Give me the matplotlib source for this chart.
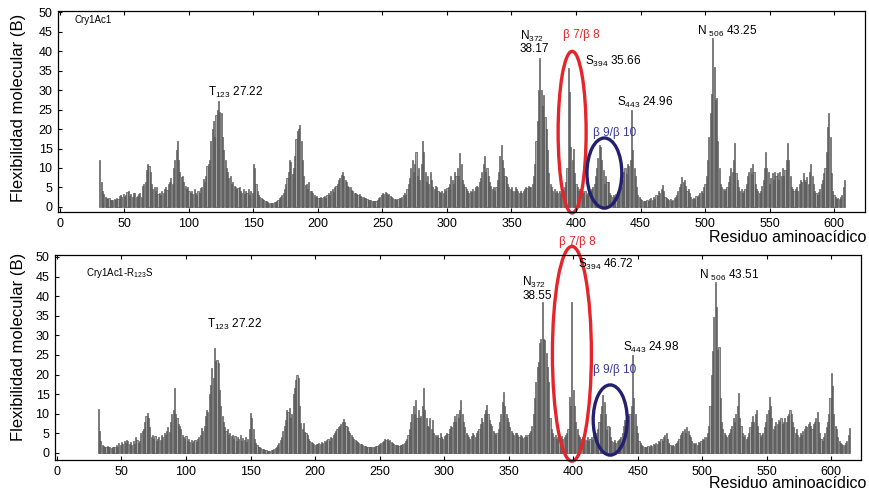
import numpy as np
import matplotlib
matplotlib.use("Agg")
import matplotlib.pyplot as plt
from matplotlib.patches import Ellipse

plt.rcParams['font.family'] = ['Liberation Sans', 'DejaVu Sans']
plt.rcParams['mathtext.fontset'] = 'custom'
plt.rcParams['mathtext.rm'] = 'Liberation Sans'

# flexibility (B) per residue
wt_start = 31
wt_vals = [
    12.0, 6.5, 4.0, 3.2, 2.5, 2.3, 2.0, 2.2, 1.8,                       # 31-39
    1.9, 1.7, 2.0, 1.8, 2.3, 2.0, 2.8, 3.0, 2.5, 3.2,                  # 40-49
    2.6, 3.0, 3.8, 4.0, 2.8, 3.2, 2.5, 3.6, 3.5, 2.6,
    2.8, 3.4, 3.5, 2.5, 5.5, 6.0, 6.5, 9.5, 11.0, 10.5,
    9.0, 6.0, 4.5, 5.0, 4.0, 5.2, 3.2, 3.5, 3.0, 4.0,
    3.6, 4.5, 5.0, 4.4, 6.0, 6.5, 7.5, 6.0, 10.0, 12.0,
    14.5, 17.0, 12.0, 9.0, 7.8, 8.0, 6.5, 5.5, 4.5, 5.0,               # 90-99
    4.0, 3.6, 4.0, 3.2, 4.5, 3.5, 3.0, 4.2, 3.5, 4.8,
    5.0, 7.3, 6.5, 8.0, 10.5, 11.0, 12.0, 17.0, 20.0, 22.0,
    18.0, 23.5, 25.0, 27.2, 24.4, 24.0, 18.0, 14.6, 12.0, 10.0,
    9.0, 7.5, 8.0, 6.0, 6.5, 5.5, 5.0, 4.5, 4.8, 5.0,
    4.0, 3.5, 4.5, 3.2, 4.2, 3.5, 4.5, 3.0, 4.0, 3.5,
    11.0, 10.0, 6.0, 4.0, 3.0, 2.5, 2.2, 2.0, 1.8, 1.5,                # 150-159
    1.4, 1.2, 1.1, 1.0, 1.0, 1.1, 1.2, 1.3, 1.5, 1.8,
    2.2, 2.5, 3.0, 3.5, 4.5, 6.0, 7.5, 9.0, 12.0, 11.5,
    8.5, 10.0, 13.0, 17.5, 19.5, 20.0, 21.0, 17.0, 12.0, 8.0,
    5.6, 6.0, 4.5, 6.5, 4.2, 4.0, 3.5, 3.0, 2.6, 2.8,
    2.4, 2.2, 2.6, 2.3, 2.5, 2.8, 2.4, 3.0, 3.5, 3.0,                  # 200-209
    4.0, 4.5, 3.8, 5.0, 5.5, 6.0, 6.8, 7.5, 8.2, 9.0,
    8.0, 7.0, 6.5, 5.5, 5.0, 5.2, 4.3, 4.0, 3.6, 3.5,
    3.2, 3.0, 3.2, 2.8, 2.6, 2.5, 2.3, 2.2, 2.0, 1.9,
    1.8, 1.7, 1.6, 1.6, 1.5, 1.6, 1.8, 2.2, 2.5, 3.0,
    3.5, 3.2, 3.8, 3.5, 3.0, 3.4, 2.8, 2.5, 2.2, 2.0,                  # 250-259
    2.0, 1.9, 2.0, 2.2, 2.2, 2.5, 3.0, 3.5, 3.0, 4.5,
    6.0, 7.5, 10.0, 12.0, 9.0, 11.0, 14.0, 8.0, 10.0, 7.0,
    11.0, 17.0, 14.0, 9.0, 6.5, 8.0, 6.0, 9.0, 7.0, 5.0,
    4.5, 5.5, 5.0, 4.0, 3.8, 3.5, 4.0, 3.6, 4.5, 4.0,
    4.8, 5.0, 6.0, 8.0, 7.0, 6.0, 9.0, 8.0, 10.0, 8.0,                 # 300-309
    13.8, 11.0, 7.0, 6.0, 5.0, 4.5, 4.0, 3.6, 4.2, 3.8,
    4.5, 4.0, 5.2, 5.5, 5.0, 6.5, 7.5, 9.0, 11.0, 13.0,
    9.0, 10.0, 8.0, 6.5, 5.5, 4.5, 5.0, 4.2, 5.0, 7.0,
    9.0, 13.0, 16.0, 12.0, 10.0, 8.0, 7.8, 6.0, 5.0, 4.5,
    5.0, 4.2, 4.0, 5.0, 4.5, 4.0, 3.5, 4.0, 3.6, 4.2,                  # 350-359
    4.5, 5.0, 4.8, 5.5, 5.0, 5.2, 6.0, 8.0, 11.0, 17.0,
    22.0, 30.0, 38.2, 30.0, 26.0, 28.7, 23.0, 20.0, 14.6, 8.6,
    6.0, 5.0, 4.0, 4.5, 3.6, 4.0, 3.5, 4.0, 3.2, 3.8,
    4.2, 5.0, 6.5, 10.0, 35.7, 29.6, 15.5, 12.0, 15.0, 8.6,
    6.0, 5.0, 4.0, 4.5, 3.8, 4.2, 3.5, 4.0, 3.0, 3.5,                  # 400-409
    4.0, 3.5, 4.5, 5.0, 6.0, 8.0, 10.0, 12.5, 16.0, 15.5,
    12.0, 9.5, 6.0, 8.0, 6.5, 6.5, 3.5, 3.0, 2.5, 3.0,
    2.5, 3.2, 2.8, 3.5, 4.0, 5.0, 7.0, 9.0, 10.0, 8.5,
    11.0, 10.5, 12.0, 25.0, 14.6, 10.0, 8.0, 5.0, 3.0, 2.5,
    2.0, 1.8, 1.6, 1.5, 1.6, 1.8, 1.6, 2.0, 2.2, 1.8,                  # 450-459
    2.5, 2.0, 3.0, 2.8, 4.0, 3.5, 4.5, 5.6, 4.0, 2.5,
    2.2, 2.0, 1.8, 2.0, 1.6, 1.8, 2.2, 2.5, 3.0, 4.0,
    5.0, 6.0, 7.8, 6.5, 7.0, 5.5, 4.0, 4.5, 3.5, 2.5,
    2.0, 2.2, 2.0, 2.8, 2.5, 3.0, 3.5, 4.0, 3.6, 5.0,
    6.0, 8.0, 12.0, 18.0, 24.0, 29.0, 43.25, 36.0, 27.4, 28.0,         # 500-509
    17.0, 10.0, 6.0, 5.0, 4.5, 4.0, 4.5, 5.0, 6.5, 8.0,
    10.0, 9.0, 12.0, 16.3, 8.6, 7.0, 5.0, 4.0, 4.5, 3.5,
    4.0, 4.5, 6.0, 8.0, 9.0, 10.0, 8.5, 11.0, 9.0, 6.0,
    4.5, 4.0, 3.5, 4.2, 5.5, 7.0, 10.0, 14.2, 10.0, 9.0,
    6.0, 7.5, 8.6, 7.0, 9.0, 8.0, 8.6, 7.0, 9.0, 8.0,                  # 550-559
    10.0, 8.0, 9.5, 12.0, 16.3, 12.0, 8.0, 5.0, 4.5, 4.0,
    4.5, 5.0, 4.2, 6.0, 7.0, 6.5, 8.6, 7.0, 6.5, 7.8,
    6.0, 9.0, 11.0, 8.0, 6.0, 4.0, 3.5, 3.0, 3.8, 4.5,
    6.0, 7.0, 8.6, 10.0, 14.0, 20.6, 24.0, 18.0, 8.6, 4.0,
    3.0, 2.5, 2.0, 2.2, 2.0, 2.5, 3.0, 5.0, 7.0,                       # 600-608
]

mut_start = 32
mut_vals = [
    11.2, 5.7, 3.0, 2.0, 1.8, 1.6, 1.5, 1.7,                           # 32-39
    1.4, 1.5, 1.3, 1.5, 1.4, 1.6, 2.0, 1.5, 2.5, 2.0,                  # 40-49
    2.8, 2.2, 3.0, 2.5, 3.3, 3.0, 2.2, 2.8, 2.0, 3.0,
    2.4, 4.0, 3.2, 2.5, 3.0, 5.0, 5.5, 6.0, 8.0, 9.5,
    10.3, 9.0, 6.5, 4.0, 4.5, 3.5, 4.2, 3.0, 3.6, 4.0,
    3.2, 4.5, 4.0, 5.0, 4.5, 5.5, 6.5, 5.4, 8.0, 10.0,
    11.0, 16.5, 10.0, 9.0, 7.5, 7.0, 6.0, 4.5, 4.0, 3.5,               # 90-99
    4.2, 3.0, 3.5, 2.8, 3.2, 2.5, 3.0, 3.2, 2.8, 3.5,
    4.0, 4.5, 6.3, 5.5, 7.0, 9.5, 11.0, 10.5, 15.0, 17.3,
    21.6, 19.0, 26.7, 23.5, 23.7, 23.0, 16.0, 12.0, 9.3, 8.0,
    6.5, 5.5, 6.0, 4.5, 5.0, 4.2, 4.5, 3.5, 4.2, 3.0,
    4.0, 3.5, 4.5, 3.0, 3.8, 3.2, 4.0, 2.8, 3.5, 6.0,
    10.1, 9.0, 6.0, 3.5, 2.5, 2.0, 1.6, 1.4, 1.2, 1.0,                 # 150-159
    0.9, 0.8, 0.7, 0.6, 0.6, 0.6, 0.7, 0.8, 1.0, 1.2,
    1.5, 2.0, 2.5, 3.2, 4.0, 5.5, 7.0, 8.5, 11.0, 10.5,
    11.4, 9.0, 10.0, 15.0, 16.5, 18.6, 20.0, 19.0, 12.0, 7.6,
    6.0, 7.6, 5.4, 5.0, 4.5, 3.5, 3.0, 2.8, 2.6, 2.2,
    2.0, 2.4, 2.2, 2.6, 2.3, 2.8, 2.5, 3.0, 2.8, 3.2,                  # 200-209
    3.5, 3.0, 4.0, 3.8, 4.5, 5.0, 5.5, 6.0, 6.5, 7.0,
    7.5, 8.0, 8.7, 8.0, 7.0, 6.5, 5.5, 5.0, 4.5, 4.0,
    3.6, 3.2, 3.0, 2.8, 2.5, 2.3, 2.2, 2.0, 1.8, 1.7,
    1.5, 1.5, 1.4, 1.5, 1.6, 1.5, 1.6, 1.8, 1.7, 2.0,
    2.2, 2.5, 2.8, 3.0, 3.5, 3.2, 3.6, 3.0, 3.4, 2.8,                  # 250-259
    2.5, 2.2, 2.0, 2.0, 1.9, 1.8, 2.0, 2.0, 2.2, 2.5,
    3.0, 3.5, 4.5, 6.0, 8.0, 10.0, 12.0, 10.0, 13.5, 9.0,
    11.0, 9.0, 9.3, 12.0, 16.5, 11.0, 9.0, 7.0, 6.5, 9.0,
    6.0, 8.4, 5.0, 4.5, 4.0, 4.5, 3.8, 5.0, 4.0, 3.6,
    4.2, 4.5, 5.0, 4.8, 6.0, 7.0, 6.5, 8.0, 9.5, 8.0,                  # 300-309
    10.0, 9.0, 11.0, 13.5, 10.0, 8.0, 6.5, 5.0, 4.5, 4.0,
    3.6, 4.2, 5.0, 4.5, 4.0, 5.0, 5.5, 6.0, 7.5, 9.0,
    8.0, 10.0, 11.0, 12.2, 10.0, 8.5, 7.5, 7.0, 5.5, 5.0,
    4.5, 5.0, 6.0, 8.0, 10.0, 13.0, 15.6, 12.0, 10.0, 9.0,
    8.0, 6.5, 5.5, 5.0, 4.5, 5.0, 5.0, 4.5, 4.0, 4.5,                  # 350-359
    4.2, 3.8, 4.0, 4.5, 4.0, 4.5, 5.0, 5.5, 7.0, 10.0,
    14.0, 18.0, 22.0, 23.3, 28.0, 29.0, 38.5, 29.0, 28.8, 25.4,
    22.0, 18.0, 9.0, 6.0, 5.0, 4.0, 4.5, 3.5, 4.0, 3.2,
    3.8, 4.2, 3.5, 4.0, 4.5, 5.0, 6.0, 14.4, 12.0, 38.6,
    16.0, 12.0, 8.0, 6.0, 4.5, 4.0, 3.5, 4.0, 3.0, 3.5,                # 400-409
    3.2, 4.0, 3.0, 3.5, 4.0, 3.2, 4.5, 4.0, 5.0, 6.0,
    8.0, 10.0, 12.0, 14.8, 13.0, 10.0, 5.9, 7.0, 6.5, 4.0,
    3.0, 2.8, 3.2, 2.5, 3.0, 3.2, 3.5, 4.0, 5.0, 7.0,
    8.5, 9.0, 10.0, 9.5, 10.0, 12.0, 25.0, 14.0, 10.0, 7.0,
    5.0, 3.0, 2.5, 2.0, 1.8, 1.6, 1.5, 1.6, 1.8, 1.5,                  # 450-459
    2.0, 1.8, 2.2, 2.0, 2.5, 2.2, 3.0, 2.8, 3.5, 3.0,
    4.0, 4.5, 5.0, 3.5, 2.5, 2.0, 1.8, 2.0, 1.8, 2.2,
    2.5, 3.0, 3.5, 4.5, 5.0, 5.5, 6.0, 5.0, 6.7, 5.5,
    4.5, 4.0, 3.0, 2.5, 2.2, 2.5, 2.0, 2.8, 2.5, 3.0,
    3.5, 3.2, 4.0, 4.0, 5.0, 7.0, 12.0, 20.0, 26.0, 34.8,              # 500-509
    43.5, 37.3, 26.3, 27.0, 14.0, 8.0, 6.0, 5.0, 4.5, 4.0,
    4.5, 5.0, 6.0, 7.0, 9.0, 8.0, 10.0, 12.0, 15.2, 9.0,
    7.0, 5.0, 4.0, 4.5, 3.5, 4.0, 5.0, 6.5, 8.0, 9.5,
    8.0, 10.0, 11.0, 7.0, 5.0, 4.0, 4.5, 5.0, 6.5, 8.0,
    10.0, 11.0, 14.4, 12.0, 9.0, 6.0, 7.0, 8.0, 7.5, 8.5,              # 550-559
    8.0, 9.0, 7.5, 8.0, 9.0, 8.0, 9.5, 10.0, 11.0, 10.0,
    8.0, 6.5, 5.0, 6.0, 4.5, 4.0, 5.0, 4.5, 5.5, 6.0,
    7.0, 6.5, 7.5, 8.0, 7.0, 6.0, 7.5, 8.0, 9.0, 10.5,
    8.0, 5.0, 3.5, 3.0, 4.0, 5.0, 6.5, 8.0, 10.0, 14.0,
    20.3, 17.0, 10.0, 7.0, 6.0, 4.0, 3.0, 2.5, 2.2, 2.0,               # 600-609
    2.0, 2.5, 3.0, 4.5, 6.3,
]

x_ticks = list(range(0, 601, 50))
y_ticks = list(range(0, 51, 5))

W, H = 869, 492
fig = plt.figure(figsize=(W / 100, H / 100), dpi=100)


def px_axes(l, t, r, b):
    return fig.add_axes([l / W, 1 - b / H, (r - l) / W, (b - t) / H])


ax1 = px_axes(58, 11, 865, 212)
ax2 = px_axes(55, 255, 861, 460)

panels = [
    (ax1, wt_start, wt_vals, (-1.5, 624), (-1.3, 50.3)),
    (ax2, mut_start, mut_vals, (-1.5, 623), (-1.8, 50.5)),
]
for ax, start, vals, xl, yl in panels:
    res = np.arange(start, start + len(vals))
    ax.bar(res, vals, width=0.85, color='#a8a8a8', edgecolor='#3a3a3a',
           linewidth=0.4)
    ax.set_xlim(*xl)
    ax.set_ylim(*yl)
    ax.set_xticks(x_ticks)
    ax.set_xticklabels([str(t) for t in x_ticks])
    ax.set_yticks(y_ticks)
    ax.tick_params(direction='in', length=3, width=0.8, top=True,
                   labelsize=9, pad=4)
    for s in ax.spines.values():
        s.set_linewidth(0.9)

red = '#e5252a'
navy = '#232070'
blue = '#39389a'

# top panel labels
ax1.text(11.6, 48, 'Cry1Ac1', fontsize=7, va='center')
ax1.text(114.7, 29.5, r'T$_{\mathregular{123}}$ 27.22', fontsize=8.5, va='center')
ax1.text(356.6, 43.8, r'N$_{\mathregular{372}}$', fontsize=8.5, va='center')
ax1.text(356.6, 40.5, '38.17', fontsize=8.5, va='center')
ax1.text(390, 44.1, 'β 7/β 8', fontsize=8.5, va='center', color=red)
ax1.text(407, 37.4, r'S$_{\mathregular{394}}$ 35.66', fontsize=8.5, va='center')
ax1.text(431.8, 26.7, r'S$_{\mathregular{443}}$ 24.96', fontsize=8.5, va='center')
ax1.text(413, 19, 'β 9/β 10', fontsize=8.5, va='center', color=blue)
ax1.text(493.8, 45.1, r'N $_{\mathregular{506}}$ 43.25', fontsize=8.5, va='center')
ax1.add_patch(Ellipse((397, 19.2), 21.7, 41.5, fill=False, ec=red, lw=2.4,
                      clip_on=False))
ax1.add_patch(Ellipse((422, 8.7), 27, 18, fill=False, ec=navy, lw=2.4,
                      clip_on=False))

# bottom panel labels
ax2.text(22.5, 45.9, r'Cry1Ac1-R$_{\mathregular{123}}$S', fontsize=7, va='center')
ax2.text(116, 32.7, r'T$_{\mathregular{123}}$ 27.22', fontsize=8.5, va='center')
ax2.text(360.5, 43.4, r'N$_{\mathregular{372}}$', fontsize=8.5, va='center')
ax2.text(360.5, 40, '38.55', fontsize=8.5, va='center')
ax2.text(389, 53.8, 'β 7/β 8', fontsize=8.5, va='center', color=red,
         clip_on=False)
ax2.text(404, 48, r'S$_{\mathregular{394}}$ 46.72', fontsize=8.5, va='center')
ax2.text(497.7, 45.2, r'N $_{\mathregular{506}}$ 43.51', fontsize=8.5, va='center')
ax2.text(438.8, 26.8, r'S$_{\mathregular{443}}$ 24.98', fontsize=8.5, va='center')
ax2.text(415.5, 21.2, 'β 9/β 10', fontsize=8.5, va='center', color=blue)
ax2.add_patch(Ellipse((399, 25.3), 30.2, 54.8, fill=False, ec=red, lw=2.4,
                      clip_on=False))
ax2.add_patch(Ellipse((428.7, 8.4), 26.4, 17.9, fill=False, ec=navy, lw=2.4,
                      clip_on=False))

# axis titles
for yc in (108, 347):
    fig.text(19 / W, 1 - yc / H, 'Flexibilidad molecular (B)', rotation=90,
             fontsize=12, ha='center', va='center')
for yc in (238, 484):
    fig.text(866 / W, 1 - yc / H, 'Residuo aminoacídico', fontsize=11.5,
             ha='right', va='center')

fig.savefig('out.png', dpi=100)
